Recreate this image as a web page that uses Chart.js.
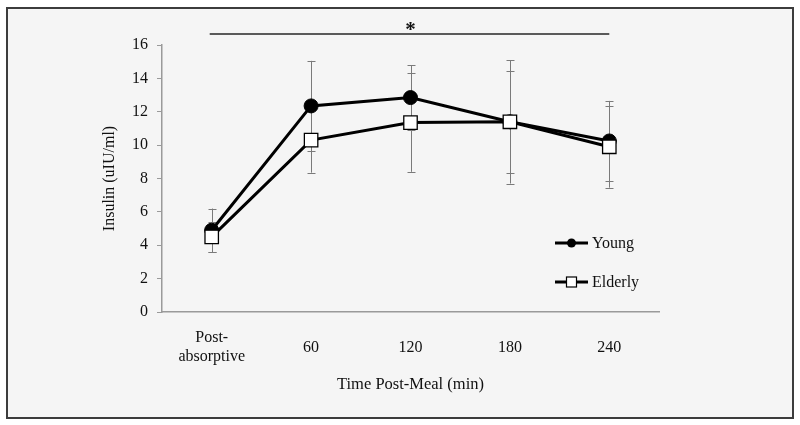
<!DOCTYPE html>
<html>
<head>
<meta charset="utf-8">
<script src="https://cdn.jsdelivr.net/npm/chart.js@4.4.1/dist/chart.umd.min.js"></script>
<style>
  html, body { margin: 0; padding: 0; background: #ffffff; }
  #frame { position: absolute; left: 6px; top: 7px; width: 784px; height: 408px; border: 2px solid #3c3c3c; background: #f5f5f5; }
  #wrap { position: absolute; left: 0; top: 0; width: 800px; height: 425px; }
</style>
</head>
<body>
<div id="frame"></div>
<div id="wrap"><canvas id="c" width="800" height="425"></canvas></div>
<script>
// ---- data ----
const categories = [['Post-', 'absorptive'], '60', '120', '180', '240'];
const seriesNames = ['Young', 'Elderly'];
const youngMean = [4.9, 12.35, 12.85, 11.4, 10.25];
const youngErr = [1.3, 2.7, 1.95, 3.05, 2.4];
const elderlyMean = [4.5, 10.3, 11.35, 11.4, 9.9];
const elderlyErr = [0.9, 1.95, 2.95, 3.7, 2.45];
const yMin = 0, yMax = 16, yStep = 2;
const xTitle = 'Time Post-Meal (min)';
const yTitle = 'Insulin (uIU/ml)';
const sigLabel = '*';
const sigFromIndex = 0, sigToIndex = 4, sigLevel = 16.65;

const FONT = "'Liberation Serif', 'Times New Roman', serif";
const errors = [youngErr, elderlyErr];

const errorBarPlugin = {
  id: 'errorBars',
  beforeDatasetsDraw(chart) {
    const ctx = chart.ctx, xs = chart.scales.x, ys = chart.scales.y;
    ctx.save();
    ctx.strokeStyle = '#7a7a7a';
    ctx.lineWidth = 1;
    chart.data.datasets.forEach((ds, di) => {
      const err = errors[di];
      ds.data.forEach((v, i) => {
        const x = Math.round(xs.getPixelForValue(i)) + 0.5;
        const yt = ys.getPixelForValue(v + err[i]);
        const yb = ys.getPixelForValue(v - err[i]);
        ctx.beginPath();
        ctx.moveTo(x, yt); ctx.lineTo(x, yb);
        ctx.moveTo(x - 4, Math.round(yt) + 0.5); ctx.lineTo(x + 4, Math.round(yt) + 0.5);
        ctx.moveTo(x - 4, Math.round(yb) + 0.5); ctx.lineTo(x + 4, Math.round(yb) + 0.5);
        ctx.stroke();
      });
    });
    ctx.restore();
  }
};

const extrasPlugin = {
  id: 'extras',
  afterDraw(chart) {
    const ctx = chart.ctx, xs = chart.scales.x, ys = chart.scales.y, a = chart.chartArea;
    ctx.save();
    // significance line
    const y = Math.round(ys.getPixelForValue(sigLevel));
    const x1 = xs.getPixelForValue(sigFromIndex), x2 = xs.getPixelForValue(sigToIndex);
    ctx.strokeStyle = '#5a5a5a';
    ctx.lineWidth = 2;
    ctx.beginPath(); ctx.moveTo(x1 - 2, y); ctx.lineTo(x2, y); ctx.stroke();
    ctx.fillStyle = '#111';
    ctx.font = 'bold 21px ' + FONT;
    ctx.textAlign = 'center';
    ctx.textBaseline = 'alphabetic';
    ctx.fillText(sigLabel, (x1 + x2) / 2, y + 2);
    // legend
    const lx = a.right - 104, ly0 = a.top + 198, gap = 39;
    chart.data.datasets.forEach((ds, di) => {
      const ly = ly0 + di * gap;
      ctx.strokeStyle = '#000';
      ctx.lineWidth = 3;
      ctx.beginPath(); ctx.moveTo(lx, ly); ctx.lineTo(lx + 33, ly); ctx.stroke();
      ctx.lineWidth = 1.2;
      if (di === 0) {
        ctx.fillStyle = '#000';
        ctx.beginPath(); ctx.arc(lx + 16.5, ly, 4.5, 0, Math.PI * 2); ctx.fill();
      } else {
        ctx.fillStyle = '#fff';
        ctx.fillRect(lx + 11.5, ly - 5, 10, 10);
        ctx.strokeRect(lx + 11.5, ly - 5, 10, 10);
      }
      ctx.fillStyle = '#111';
      ctx.font = '16px ' + FONT;
      ctx.textAlign = 'left';
      ctx.textBaseline = 'middle';
      ctx.fillText(seriesNames[di], lx + 37, ly + 1);
    });
    ctx.restore();
  }
};

new Chart(document.getElementById('c'), {
  type: 'line',
  data: {
    labels: categories,
    datasets: [
      {
        label: seriesNames[0], data: youngMean, order: 1,
        borderColor: '#000', borderWidth: 3,
        pointStyle: 'circle', pointRadius: 7, pointHoverRadius: 7,
        pointBackgroundColor: '#000', pointBorderColor: '#000', pointBorderWidth: 1,
        tension: 0
      },
      {
        label: seriesNames[1], data: elderlyMean, order: 0,
        borderColor: '#000', borderWidth: 3,
        pointStyle: 'rect', pointRadius: 9.5, pointHoverRadius: 9.5,
        pointBackgroundColor: '#fff', pointBorderColor: '#000', pointBorderWidth: 1.3,
        tension: 0
      }
    ]
  },
  options: {
    responsive: false,
    animation: false,
    devicePixelRatio: 1,
    layout: { padding: { left: 100, top: 45, right: 141, bottom: 30 } },
    plugins: { legend: { display: false }, tooltip: { enabled: false } },
    scales: {
      x: {
        type: 'category',
        offset: true,
        grid: { display: false, drawOnChartArea: false },
        border: { display: true, color: '#9a9a9a', width: 1.5 },
        ticks: { color: '#111', font: { family: FONT, size: 16 }, padding: 18, crossAlign: 'center', maxRotation: 0, autoSkip: false },
        title: { display: true, text: xTitle, color: '#111', font: { family: FONT, size: 16.5 }, padding: { top: 0, bottom: 0 } },
        afterFit(scale) { scale.height = 83; }
      },
      y: {
        min: yMin, max: yMax,
        grid: { drawOnChartArea: false, drawTicks: true, tickLength: 5, color: '#9a9a9a' },
        border: { display: true, color: '#9a9a9a', width: 1.5 },
        ticks: { stepSize: yStep, color: '#111', font: { family: FONT, size: 16 }, padding: 9 },
        title: { display: true, text: yTitle, color: '#111', font: { family: FONT, size: 16 }, padding: { top: 0, bottom: 0 } },
        afterFit(scale) { scale.width = 62; }
      }
    }
  },
  plugins: [errorBarPlugin, extrasPlugin]
});
</script>
</body>
</html>
